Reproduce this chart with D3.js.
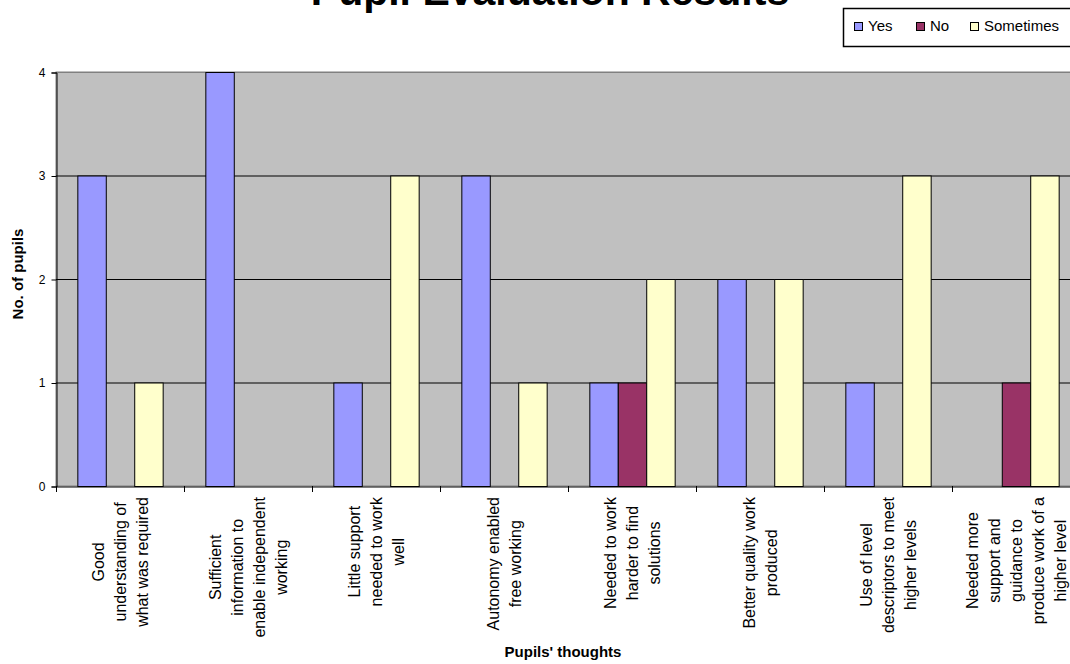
<!DOCTYPE html>
<html>
<head>
<meta charset="utf-8">
<script src="https://cdn.jsdelivr.net/npm/d3@7"></script>
<style>
  body { margin: 0; background: #fff; overflow: hidden; }
  text { font-family: Arial, "Liberation Sans", sans-serif; fill: #000; }
</style>
</head>
<body>
<div id="chart"></div>
<script>
// Chart data
var categories = [
    ["Good", "understanding of", "what was required"],
    ["Sufficient", "information to", "enable independent", "working"],
    ["Little support", "needed to work", "well"],
    ["Autonomy enabled", "free working"],
    ["Needed to work", "harder to find", "solutions"],
    ["Better quality work", "produced"],
    ["Use of level", "descriptors to meet", "higher levels"],
    ["Needed more", "support and", "guidance to", "produce work of a", "higher level"]
];
var seriesNames = ["Yes", "No", "Sometimes"];
var yesValues = [3, 4, 1, 3, 1, 2, 1, 0];
var noValues = [0, 0, 0, 0, 1, 0, 0, 1];
var sometimesValues = [1, 0, 3, 1, 2, 2, 3, 3];
var yTicks = [0, 1, 2, 3, 4];
var colors = ["#9999FF", "#993366", "#FFFFCC"];

var svgWidth = 1070;
var svgHeight = 664;

var margin = {top: 72, left: 56};
var width = 1024;
var height = 414;

var svg = d3.select("#chart")
    .append("svg")
    .attr("width", svgWidth)
    .attr("height", svgHeight);

var chartGroup = svg.append("g")
    .attr("transform", `translate(${margin.left}, ${margin.top})`);

// Scales
var xScale = d3.scaleBand()
    .domain(d3.range(categories.length))
    .range([0, width])
    .padding(0);

var bw = xScale.bandwidth();
var barW = bw / 4.5;

var xInner = d3.scaleBand()
    .domain(seriesNames)
    .range([barW * 0.75, bw - barW * 0.75])
    .padding(0);

var yScale = d3.scaleLinear()
    .domain([0, 4])
    .range([height, 0]);

// Plot background
chartGroup.append("rect")
    .attr("width", width)
    .attr("height", height)
    .attr("fill", "#C0C0C0")
    .attr("stroke", "#808080");

// Gridlines
chartGroup.selectAll(".grid")
    .data(yTicks.filter(d => d > 0))
    .enter()
    .append("line")
    .attr("x1", 0)
    .attr("x2", width)
    .attr("y1", d => yScale(d) + 0.5)
    .attr("y2", d => yScale(d) + 0.5)
    .attr("stroke", d => d === 4 ? "#808080" : "#000")
    .attr("stroke-width", 1);

// Bars (skip zero values so no flat outline is drawn)
var seriesData = [yesValues, noValues, sometimesValues];
seriesData.forEach(function(vals, s) {
    var pts = vals.map((v, i) => ({cat: i, value: v})).filter(d => d.value > 0);
    chartGroup.selectAll(".bar" + s)
        .data(pts)
        .enter()
        .append("rect")
        .attr("x", d => xScale(d.cat) + xInner(seriesNames[s]) + 0.5)
        .attr("y", d => yScale(d.value) + 0.5)
        .attr("width", xInner.bandwidth())
        .attr("height", d => height - yScale(d.value))
        .attr("fill", colors[s])
        .attr("stroke", "#000")
        .attr("stroke-width", 1);
});

// Axes
var leftAxis = d3.axisLeft(yScale)
    .tickValues(yTicks)
    .tickFormat(d3.format("d"))
    .tickSize(5)
    .tickPadding(6);

var yAxis = chartGroup.append("g")
    .attr("transform", "translate(0.5, 0.5)")
    .call(leftAxis);
yAxis.selectAll("text").style("font-size", "12px").attr("fill", "#000");
yAxis.selectAll("line").attr("stroke", "#000");
yAxis.select(".domain").attr("stroke", "#000");

var bottomAxis = d3.axisBottom(xScale)
    .tickValues([])
    .tickSizeOuter(0);

var xAxis = chartGroup.append("g")
    .attr("transform", `translate(0, ${height + 0.5})`)
    .call(bottomAxis);
xAxis.select(".domain").attr("stroke", "#000");

// Category boundary tick marks
chartGroup.selectAll(".xtick")
    .data(d3.range(categories.length + 1))
    .enter()
    .append("line")
    .attr("x1", d => Math.round(d * bw) + 0.5)
    .attr("x2", d => Math.round(d * bw) + 0.5)
    .attr("y1", height)
    .attr("y2", height + 6)
    .attr("stroke", "#000");

// Category labels (rotated, multi-line)
var lineGap = 22;
categories.forEach(function(lines, i) {
    var g = chartGroup.append("g");
    var texts = g.selectAll("text")
        .data(lines)
        .enter()
        .append("text")
        .attr("text-anchor", "middle")
        .attr("dominant-baseline", "central")
        .style("font-size", "16px")
        .text(d => d);
    var maxLen = d3.max(texts.nodes(), n => n.getComputedTextLength());
    var cx = xScale(i) + bw / 2;
    var cy = height + 11 + maxLen / 2;
    texts.attr("transform", (d, j) =>
        `translate(${cx + (j - (lines.length - 1) / 2) * lineGap}, ${cy}) rotate(-90)`);
});

// Axis titles
chartGroup.append("text")
    .attr("transform", `translate(-33, ${height / 2 - 5}) rotate(-90)`)
    .attr("text-anchor", "middle")
    .style("font-size", "15px")
    .style("font-weight", "bold")
    .text("No. of pupils");

svg.append("text")
    .attr("x", 563)
    .attr("y", 657)
    .attr("text-anchor", "middle")
    .style("font-size", "15px")
    .style("font-weight", "bold")
    .text("Pupils' thoughts");

// Title (partly above the top edge, as in the original)
svg.append("text")
    .attr("x", 550)
    .attr("y", 5)
    .attr("text-anchor", "middle")
    .style("font-size", "41px")
    .style("font-weight", "bold")
    .text("Pupil Evaluation Results");

// Legend
var legend = svg.append("g")
    .attr("transform", "translate(843, 8)");

legend.append("rect")
    .attr("x", 0.5)
    .attr("y", 0.5)
    .attr("width", 240)
    .attr("height", 38)
    .attr("fill", "#fff")
    .attr("stroke", "#000")
    .attr("stroke-width", 1.5);

var legendX = [11, 73, 127];
seriesNames.forEach(function(name, s) {
    legend.append("rect")
        .attr("x", legendX[s] + 0.5)
        .attr("y", 14.5)
        .attr("width", 8)
        .attr("height", 8)
        .attr("fill", colors[s])
        .attr("stroke", "#000");
    legend.append("text")
        .attr("x", legendX[s] + 14)
        .attr("y", 23)
        .style("font-size", "15px")
        .text(name);
});
</script>
</body>
</html>
